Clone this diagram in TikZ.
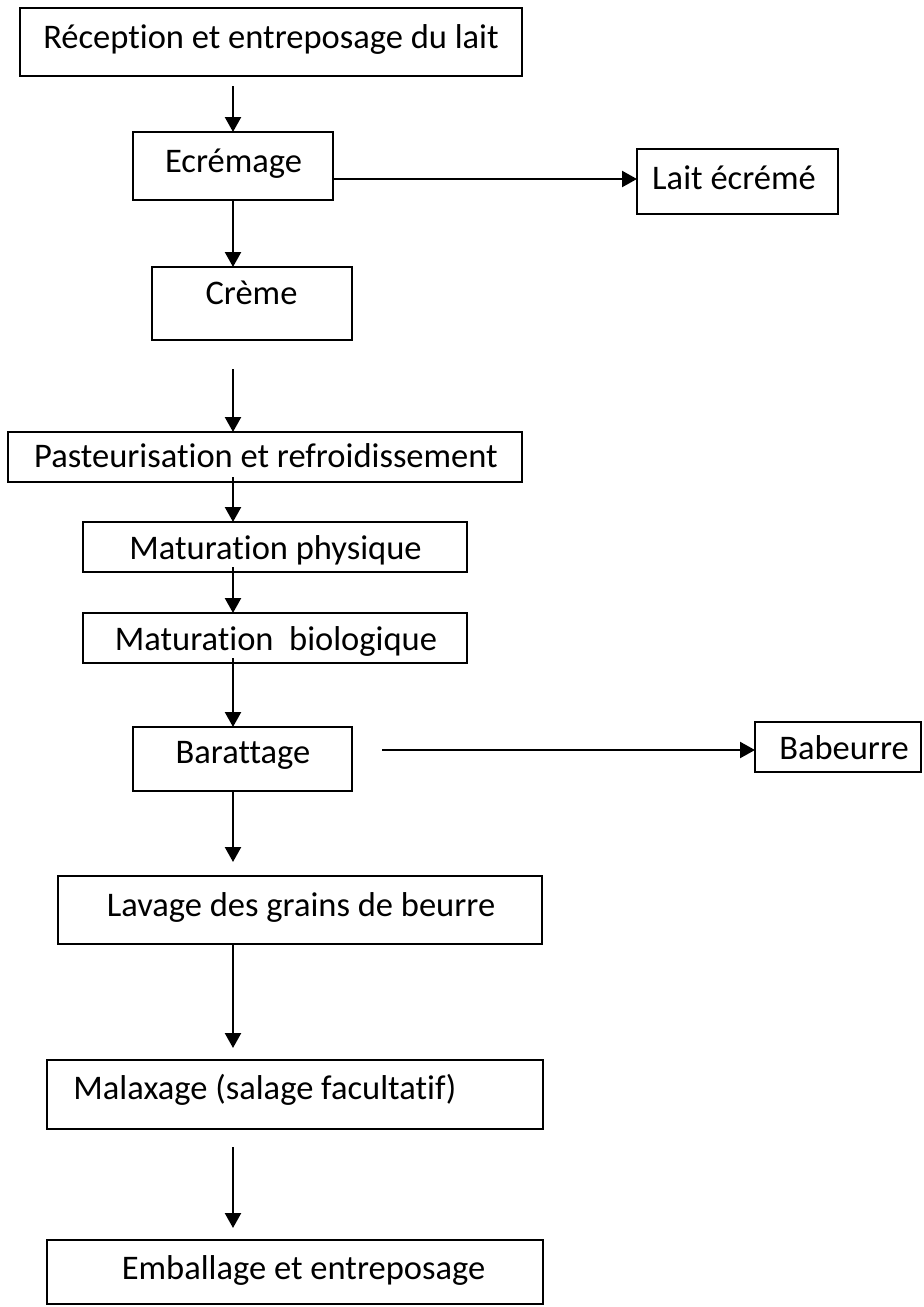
\documentclass[tikz,border=0pt]{standalone}
\usepackage{fontspec}
\setmainfont[Ligatures=NoCommon]{Carlito}
\usetikzlibrary{arrows.meta}
\begin{document}
\begin{tikzpicture}[x=1pt,y=-1pt,
  box/.style={draw=black,line width=2.6pt,inner sep=0pt,outer sep=0pt},
  lbl/.style={anchor=base,inner sep=0pt,font=\fontsize{34.5}{40}\selectfont,text=black},
  arr/.style={line width=2.3pt,-{Triangle[length=15pt,width=16pt]}}]
\useasboundingbox[fill=white] (0,0) rectangle (924,1307);
% boxes
\node[box,minimum width=502pt,minimum height=68pt] (b1) at (271,42) {};
\node[box,minimum width=200pt,minimum height=68pt] (b2) at (233,166) {};
\node[box,minimum width=201pt,minimum height=65pt] (b3) at (737.5,181.5) {};
\node[box,minimum width=200pt,minimum height=73pt] (b4) at (252,303.5) {};
\node[box,minimum width=514pt,minimum height=50pt] (b5) at (265,457) {};
\node[box,minimum width=384pt,minimum height=50pt] (b6) at (275,547) {};
\node[box,minimum width=384pt,minimum height=50pt] (b7) at (275,638) {};
\node[box,minimum width=219pt,minimum height=64pt] (b8) at (242.5,759) {};
\node[box,minimum width=166pt,minimum height=50pt] (b9) at (838,747) {};
\node[box,minimum width=484pt,minimum height=68pt] (b10) at (300,910) {};
\node[box,minimum width=496pt,minimum height=69pt] (b11) at (295,1094.5) {};
\node[box,minimum width=496pt,minimum height=64pt] (b12) at (295,1272) {};
% labels
\node[lbl] (t1) at (271,48) {Réception et entreposage du lait};
\node[lbl] (t2) at (233.5,172) {Ecrémage};
\node[lbl] (t3) at (734,189) {Lait écrémé};
\node[lbl] (t4) at (251.5,304) {Crème};
\node[lbl] (t5) at (266,467) {Pasteurisation et refroidissement};
\node[lbl] (t6) at (275.5,559) {Maturation physique};
\node[lbl] (t7) at (276,650) {Maturation\ \ biologique};
\node[lbl] (t8) at (243,763) {Barattage};
\node[lbl] (t9) at (844,759) {Babeurre};
\node[lbl] (t10) at (301,916) {Lavage des grains de beurre};
\node[lbl] (t11) at (265,1099) {Malaxage (salage facultatif)};
\node[lbl] (t12) at (303.5,1279) {Emballage et entreposage};
% free ends
\coordinate (a1s) at (233,86);
\coordinate (a3s) at (233,369);
\coordinate (a4s) at (233,477);
\coordinate (a5s) at (233,567);
\coordinate (a6s) at (233,658);
\coordinate (a7e) at (233,862);
\coordinate (a8e) at (233,1048);
\coordinate (a9s) at (233,1147);
\coordinate (a9e) at (233,1228);
\coordinate (h1s) at (333,179);
\coordinate (h2s) at (382,750);
% connectors
\draw[arr] (a1s) -- (b2.north);
\draw[arr] (b2.south) -- (b2.south |- b4.north);
\draw[arr] (a3s) -- (a3s |- b5.north);
\draw[arr] (a4s) -- (a4s |- b6.north);
\draw[arr] (a5s) -- (a5s |- b7.north);
\draw[arr] (a6s) -- (a6s |- b8.north);
\draw[arr] (a7e |- b8.south) -- (a7e);
\draw[arr] (a8e |- b10.south) -- (a8e);
\draw[arr] (a9s) -- (a9e);
\draw[arr] (h1s) -- (h1s -| b3.west);
\draw[arr] (h2s) -- (h2s -| b9.west);
\end{tikzpicture}
\end{document}
